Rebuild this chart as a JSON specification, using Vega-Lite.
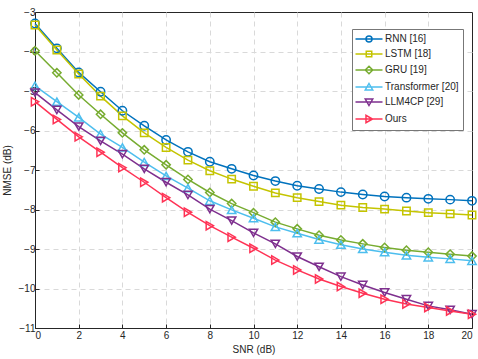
{
  "$schema": "https://vega.github.io/schema/vega-lite/v6.json",
  "autosize": {"type": "none"},
  "padding": {"left": 35, "top": 12, "right": 6, "bottom": 31},
  "width": 437,
  "height": 316,
  "background": "white",
  "config": {
    "font": "Liberation Sans",
    "view": {"stroke": "#262626", "strokeWidth": 1}
  },
  "data": {
    "values": [
      {"m":"RNN [16]","snr":0,"v":-3.29},{"m":"RNN [16]","snr":1,"v":-3.92},{"m":"RNN [16]","snr":2,"v":-4.53},{"m":"RNN [16]","snr":3,"v":-5.02},{"m":"RNN [16]","snr":4,"v":-5.50},{"m":"RNN [16]","snr":5,"v":-5.88},{"m":"RNN [16]","snr":6,"v":-6.24},{"m":"RNN [16]","snr":7,"v":-6.54},{"m":"RNN [16]","snr":8,"v":-6.79},{"m":"RNN [16]","snr":9,"v":-6.97},{"m":"RNN [16]","snr":10,"v":-7.14},{"m":"RNN [16]","snr":11,"v":-7.28},{"m":"RNN [16]","snr":12,"v":-7.40},{"m":"RNN [16]","snr":13,"v":-7.48},{"m":"RNN [16]","snr":14,"v":-7.56},{"m":"RNN [16]","snr":15,"v":-7.62},{"m":"RNN [16]","snr":16,"v":-7.67},{"m":"RNN [16]","snr":17,"v":-7.70},{"m":"RNN [16]","snr":18,"v":-7.73},{"m":"RNN [16]","snr":19,"v":-7.75},{"m":"RNN [16]","snr":20,"v":-7.78},
      {"m":"LSTM [18]","snr":0,"v":-3.33},{"m":"LSTM [18]","snr":1,"v":-3.96},{"m":"LSTM [18]","snr":2,"v":-4.57},{"m":"LSTM [18]","snr":3,"v":-5.13},{"m":"LSTM [18]","snr":4,"v":-5.63},{"m":"LSTM [18]","snr":5,"v":-6.06},{"m":"LSTM [18]","snr":6,"v":-6.43},{"m":"LSTM [18]","snr":7,"v":-6.75},{"m":"LSTM [18]","snr":8,"v":-7.02},{"m":"LSTM [18]","snr":9,"v":-7.23},{"m":"LSTM [18]","snr":10,"v":-7.41},{"m":"LSTM [18]","snr":11,"v":-7.58},{"m":"LSTM [18]","snr":12,"v":-7.70},{"m":"LSTM [18]","snr":13,"v":-7.80},{"m":"LSTM [18]","snr":14,"v":-7.89},{"m":"LSTM [18]","snr":15,"v":-7.95},{"m":"LSTM [18]","snr":16,"v":-7.99},{"m":"LSTM [18]","snr":17,"v":-8.04},{"m":"LSTM [18]","snr":18,"v":-8.08},{"m":"LSTM [18]","snr":19,"v":-8.11},{"m":"LSTM [18]","snr":20,"v":-8.14},
      {"m":"GRU [19]","snr":0,"v":-3.98},{"m":"GRU [19]","snr":1,"v":-4.54},{"m":"GRU [19]","snr":2,"v":-5.10},{"m":"GRU [19]","snr":3,"v":-5.59},{"m":"GRU [19]","snr":4,"v":-6.06},{"m":"GRU [19]","snr":5,"v":-6.49},{"m":"GRU [19]","snr":6,"v":-6.87},{"m":"GRU [19]","snr":7,"v":-7.24},{"m":"GRU [19]","snr":8,"v":-7.57},{"m":"GRU [19]","snr":9,"v":-7.85},{"m":"GRU [19]","snr":10,"v":-8.08},{"m":"GRU [19]","snr":11,"v":-8.32},{"m":"GRU [19]","snr":12,"v":-8.49},{"m":"GRU [19]","snr":13,"v":-8.65},{"m":"GRU [19]","snr":14,"v":-8.77},{"m":"GRU [19]","snr":15,"v":-8.87},{"m":"GRU [19]","snr":16,"v":-8.96},{"m":"GRU [19]","snr":17,"v":-9.03},{"m":"GRU [19]","snr":18,"v":-9.08},{"m":"GRU [19]","snr":19,"v":-9.13},{"m":"GRU [19]","snr":20,"v":-9.18},
      {"m":"Transformer [20]","snr":0,"v":-4.87},{"m":"Transformer [20]","snr":1,"v":-5.27},{"m":"Transformer [20]","snr":2,"v":-5.67},{"m":"Transformer [20]","snr":3,"v":-6.09},{"m":"Transformer [20]","snr":4,"v":-6.43},{"m":"Transformer [20]","snr":5,"v":-6.80},{"m":"Transformer [20]","snr":6,"v":-7.15},{"m":"Transformer [20]","snr":7,"v":-7.46},{"m":"Transformer [20]","snr":8,"v":-7.78},{"m":"Transformer [20]","snr":9,"v":-8.01},{"m":"Transformer [20]","snr":10,"v":-8.22},{"m":"Transformer [20]","snr":11,"v":-8.44},{"m":"Transformer [20]","snr":12,"v":-8.60},{"m":"Transformer [20]","snr":13,"v":-8.76},{"m":"Transformer [20]","snr":14,"v":-8.89},{"m":"Transformer [20]","snr":15,"v":-9.00},{"m":"Transformer [20]","snr":16,"v":-9.08},{"m":"Transformer [20]","snr":17,"v":-9.16},{"m":"Transformer [20]","snr":18,"v":-9.21},{"m":"Transformer [20]","snr":19,"v":-9.25},{"m":"Transformer [20]","snr":20,"v":-9.30},
      {"m":"LLM4CP [29]","snr":0,"v":-5.04},{"m":"LLM4CP [29]","snr":1,"v":-5.48},{"m":"LLM4CP [29]","snr":2,"v":-5.90},{"m":"LLM4CP [29]","snr":3,"v":-6.26},{"m":"LLM4CP [29]","snr":4,"v":-6.60},{"m":"LLM4CP [29]","snr":5,"v":-6.97},{"m":"LLM4CP [29]","snr":6,"v":-7.31},{"m":"LLM4CP [29]","snr":7,"v":-7.63},{"m":"LLM4CP [29]","snr":8,"v":-7.99},{"m":"LLM4CP [29]","snr":9,"v":-8.28},{"m":"LLM4CP [29]","snr":10,"v":-8.59},{"m":"LLM4CP [29]","snr":11,"v":-8.87},{"m":"LLM4CP [29]","snr":12,"v":-9.19},{"m":"LLM4CP [29]","snr":13,"v":-9.45},{"m":"LLM4CP [29]","snr":14,"v":-9.70},{"m":"LLM4CP [29]","snr":15,"v":-9.91},{"m":"LLM4CP [29]","snr":16,"v":-10.10},{"m":"LLM4CP [29]","snr":17,"v":-10.27},{"m":"LLM4CP [29]","snr":18,"v":-10.44},{"m":"LLM4CP [29]","snr":19,"v":-10.54},{"m":"LLM4CP [29]","snr":20,"v":-10.65},
      {"m":"Ours","snr":0,"v":-5.27},{"m":"Ours","snr":1,"v":-5.72},{"m":"Ours","snr":2,"v":-6.16},{"m":"Ours","snr":3,"v":-6.55},{"m":"Ours","snr":4,"v":-6.94},{"m":"Ours","snr":5,"v":-7.31},{"m":"Ours","snr":6,"v":-7.70},{"m":"Ours","snr":7,"v":-8.07},{"m":"Ours","snr":8,"v":-8.41},{"m":"Ours","snr":9,"v":-8.70},{"m":"Ours","snr":10,"v":-8.98},{"m":"Ours","snr":11,"v":-9.28},{"m":"Ours","snr":12,"v":-9.53},{"m":"Ours","snr":13,"v":-9.76},{"m":"Ours","snr":14,"v":-9.95},{"m":"Ours","snr":15,"v":-10.12},{"m":"Ours","snr":16,"v":-10.27},{"m":"Ours","snr":17,"v":-10.39},{"m":"Ours","snr":18,"v":-10.48},{"m":"Ours","snr":19,"v":-10.57},{"m":"Ours","snr":20,"v":-10.65}
    ]
  },
  "encoding": {
    "x": {
      "field": "snr", "type": "quantitative",
      "scale": {"domain": [0, 20], "nice": false},
      "axis": {
        "title": "SNR (dB)", "titleFont": "Liberation Sans", "titleFontSize": 10, "titleFontWeight": "normal", "titleColor": "#262626", "titlePadding": 4,
        "values": [0,2,4,6,8,10,12,14,16,18,20],
        "labelFontSize": 10, "labelColor": "#262626", "labelPadding": 6,
        "tickSize": -4, "tickColor": "#262626", "domainColor": "#262626",
        "grid": true, "gridDash": [5, 4], "gridColor": "#d9d9d9", "gridWidth": 1,
        "gridOpacity": {"condition": {"test": "datum.value == 20", "value": 0}, "value": 1}
      }
    },
    "y": {
      "field": "v", "type": "quantitative",
      "scale": {"domain": [-11, -3], "nice": false, "zero": false},
      "axis": {
        "title": "NMSE (dB)", "titleFont": "Liberation Sans", "titleFontSize": 10, "titleFontWeight": "normal", "titleColor": "#262626", "titlePadding": 6,
        "values": [-11,-10,-9,-8,-7,-6,-5,-4,-3],
        "labelFontSize": 10, "labelColor": "#262626", "labelPadding": 4,
        "tickSize": -4, "tickColor": "#262626", "domainColor": "#262626",
        "grid": true, "gridDash": [5, 4], "gridColor": "#d9d9d9", "gridWidth": 1,
        "gridOpacity": {"condition": {"test": "datum.value == -3", "value": 0}, "value": 1}
      }
    },
    "color": {
      "field": "m", "type": "nominal",
      "sort": ["RNN [16]","LSTM [18]","GRU [19]","Transformer [20]","LLM4CP [29]","Ours"],
      "scale": {
        "domain": ["RNN [16]","LSTM [18]","GRU [19]","Transformer [20]","LLM4CP [29]","Ours"],
        "range": ["#0072BD","#C4C400","#77AC30","#4DBEEE","#7E2F8E","#FF3355"]
      },
      "legend": {
        "title": null,
        "orient": "none",
        "legendX": 317,
        "legendY": 17,
        "direction": "vertical",
        "labelFont": "Liberation Sans",
        "labelFontSize": 10,
        "labelColor": "#262626",
        "labelOffset": 10,
        "symbolOffset": 7,
        "rowPadding": 3,
        "padding": 4,
        "strokeColor": "#777777",
        "fillColor": "white",
        "symbolSize": 100,
        "symbolStrokeWidth": 1.5,
        "symbolFillColor": "transparent",
        "symbolType": "M-2.7,0L2.7,0",
        "encode": {
          "symbols": {
            "update": {
              "shape": {"signal": "datum.value === 'RNN [16]' ? 'M-2.7,0L2.7,0M-0.6,0A0.6,0.6,0,1,0,0.6,0A0.6,0.6,0,1,0,-0.6,0Z' : datum.value === 'LSTM [18]' ? 'M-2.7,0L2.7,0M-0.55,-0.55L0.55,-0.55L0.55,0.55L-0.55,0.55Z' : datum.value === 'GRU [19]' ? 'M-2.7,0L2.7,0M0,-0.75L0.75,0L0,0.75L-0.75,0Z' : datum.value === 'Transformer [20]' ? 'M-2.7,0L2.7,0M0,-0.7L0.75,0.6L-0.75,0.6Z' : datum.value === 'LLM4CP [29]' ? 'M-2.7,0L2.7,0M0,0.7L0.75,-0.6L-0.75,-0.6Z' : 'M-2.7,0L2.7,0M0.7,0L-0.6,0.75L-0.6,-0.75Z'"},
              "fill": {"value": "transparent"},
              "strokeWidth": {"value": 1.5}
            }
          }
        }
      }
    }
  },
  "layer": [
    {"mark": {"type": "line", "strokeWidth": 1.5}},
    {"transform": [{"filter": "datum.m === 'RNN [16]'"}], "mark": {"type": "point", "shape": "circle", "filled": false, "size": 70, "strokeWidth": 1.5, "opacity": 1}},
    {"transform": [{"filter": "datum.m === 'LSTM [18]'"}], "mark": {"type": "point", "shape": "square", "filled": false, "size": 55, "strokeWidth": 1.5, "opacity": 1}},
    {"transform": [{"filter": "datum.m === 'GRU [19]'"}], "mark": {"type": "point", "shape": "diamond", "filled": false, "size": 70, "strokeWidth": 1.5, "opacity": 1}},
    {"transform": [{"filter": "datum.m === 'Transformer [20]'"}], "mark": {"type": "point", "shape": "triangle-up", "filled": false, "size": 70, "strokeWidth": 1.5, "opacity": 1}},
    {"transform": [{"filter": "datum.m === 'LLM4CP [29]'"}], "mark": {"type": "point", "shape": "triangle-down", "filled": false, "size": 70, "strokeWidth": 1.5, "opacity": 1}},
    {"transform": [{"filter": "datum.m === 'Ours'"}], "mark": {"type": "point", "shape": "triangle-right", "filled": false, "size": 70, "strokeWidth": 1.5, "opacity": 1}}
  ]
}
